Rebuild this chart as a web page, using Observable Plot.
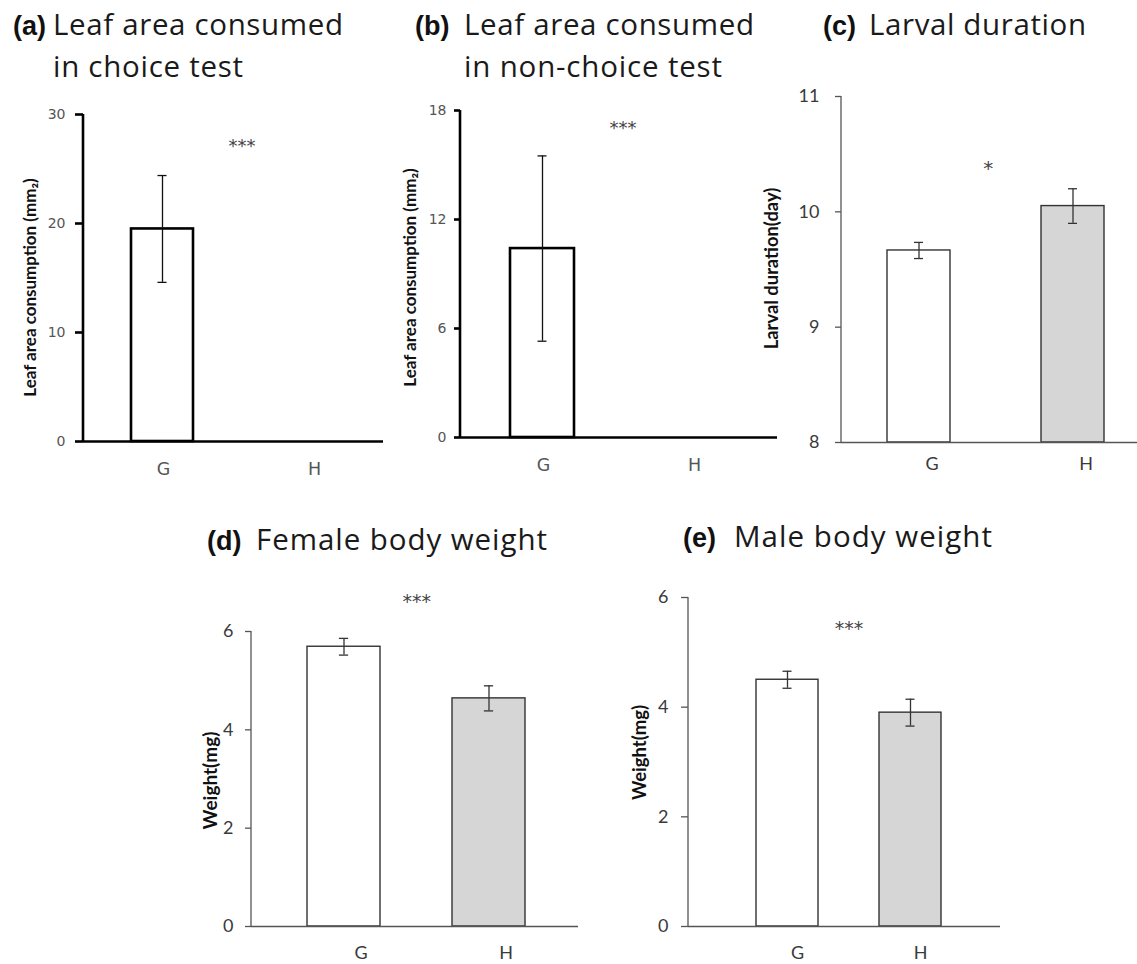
<!DOCTYPE html>
<html><head><meta charset="utf-8">
<script src="https://cdn.jsdelivr.net/npm/d3@7"></script>
<script src="https://cdn.jsdelivr.net/npm/@observablehq/plot@0.6"></script>
<style>
body{margin:0;background:#fff;}
#root{position:relative;width:1137px;height:964px;overflow:hidden;background:#fff;}
.panel{position:absolute;}
.panel svg{overflow:visible;background:transparent;}
#titles{position:absolute;left:0;top:0;}
.heavy [aria-label="y-axis tick label"] text{font-family:"DejaVu Sans" !important;font-size:14px !important;fill:#555 !important;}
.heavy [aria-label="x-axis tick label"] text{font-family:"DejaVu Sans" !important;font-size:17.5px !important;fill:#555 !important;}
.light [aria-label="y-axis tick label"] text{font-family:"Lato" !important;font-size:18px !important;fill:#3a3a3a !important;}
.light [aria-label="x-axis tick label"] text{font-family:"Lato" !important;font-size:18px !important;fill:#3a3a3a !important;}
</style></head><body><div id="root"></div>
<script>
// ---- data ----
const categories = ["G", "H"];
const leafChoiceMean = [19.5, 0];
const leafChoiceSE = [4.9, 0];
const leafNonChoiceMean = [10.4, 0];
const leafNonChoiceSE = [5.1, 0];
const larvalMean = [9.665, 10.05];
const larvalSE = [0.07, 0.15];
const femaleMean = [5.69, 4.64];
const femaleSE = [0.17, 0.255];
const maleMean = [4.5, 3.9];
const maleSE = [0.155, 0.245];
const leafChoiceTicks = [0, 10, 20, 30];
const leafNonChoiceTicks = [0, 6, 12, 18];
const larvalTicks = [8, 9, 10, 11];
const femaleTicks = [0, 2, 4, 6];
const maleTicks = [0, 2, 4, 6];
const significance = ["***", "***", "*", "***", "***"];
const significanceY = [27.1, 17.1, 10.38, 6.63, 5.45];
const panelLetters = ["(a)", "(b)", "(c)", "(d)", "(e)"];
const panelTitles = [["Leaf area consumed", "in choice test"], ["Leaf area consumed", "in non-choice test"], ["Larval duration"], ["Female body weight"], ["Male body weight"]];
const yLabels = ["Leaf area consumption (mm\u2082)", "Leaf area consumption (mm\u2082)", "Larval duration(day)", "Weight(mg)", "Weight(mg)"];
const barFills = ["#ffffff", "#d6d6d6"];

// ---- layout / style ----
const heavy = {cls: "heavy", axis: "#000", axisW: 2.6, bar: "#000", barW: 2.6, err: "#111", errW: 1.3};
const light = {cls: "light", axis: "#555", axisW: 1.3, bar: "#333", barW: 1.4, err: "#333", errW: 1.3};
const panels = [
  {mean: leafChoiceMean, se: leafChoiceSE, ticks: leafChoiceTicks, yDomain: [0, 30], left: 0, top: 90, w: 390, h: 380, mt: 24, mr: 7, mb: 29, ml: 83, xRange: [86.5, 388.5], padding: 0.59, st: heavy, tickSize: 8, tickPad: 10, xPad: 21, xDx: 1, labX: -53, labDy: 9.5, labFont: 17, starFont: 18, starDx: 4, sigDy: 0},
  {mean: leafNonChoiceMean, se: leafNonChoiceSE, ticks: leafNonChoiceTicks, yDomain: [0, 18], left: 390, top: 90, w: 390, h: 380, mt: 20, mr: 3, mb: 33, ml: 70, xRange: [76.5, 378.5], padding: 0.576, st: heavy, tickSize: 6, tickPad: 8, xPad: 21, xDx: 1, labX: -50, labDy: 3.5, labFont: 17, starFont: 18, starDx: 5, sigDy: 1},
  {mean: larvalMean, se: larvalSE, ticks: larvalTicks, yDomain: [8, 11], left: 760, top: 90, w: 377, h: 380, mt: 6, mr: 0, mb: 28, ml: 81, xRange: [81.25, 390.25], padding: 0.592, st: light, tickSize: 6, tickPad: 16, xPad: 15, xDx: 13, labX: -69, labDy: -1, labFont: 18.4, starFont: 20, starDx: -8, sigDy: 1},
  {mean: femaleMean, se: femaleSE, ticks: femaleTicks, yDomain: [0, 6], left: 190, top: 560, w: 400, h: 404, mt: 71, mr: 12, mb: 38, ml: 61, xRange: [80.25, 371.25], padding: 0.5, st: light, tickSize: 6, tickPad: 12, xPad: 20, xDx: 17, labX: -41, labDy: 1.5, labFont: 19, starFont: 19, starDx: 0, sigDy: 1},
  {mean: maleMean, se: maleSE, ticks: maleTicks, yDomain: [0, 6], left: 600, top: 560, w: 420, h: 404, mt: 37, mr: 20, mb: 38, ml: 88, xRange: [125.5, 371.5], padding: 0.496, st: light, tickSize: 7, tickPad: 13, xPad: 20, xDx: 10, labX: -48, labDy: -9.5, labFont: 18.5, starFont: 19, starDx: 0, sigDy: 1}
];
const titlePos = [
  {x: 13, y: 35, tx: 53, y2: 77, len: [290, 190]},
  {x: 415, y: 35, tx: 464, y2: 77, len: [290, 258]},
  {x: 823, y: 35, tx: 869, len: [217]},
  {x: 207, y: 550, tx: 256, len: [291]},
  {x: 683, y: 547, tx: 734, len: [258]}
];

const root = document.getElementById("root");

panels.forEach((p, k) => {
  const st = p.st;
  const data = categories.map((c, i) => ({cat: c, mean: p.mean[i], se: p.se[i]}));
  const withErr = data.filter(d => d.se > 0);
  const step = (p.xRange[1] - p.xRange[0]) / 2;
  const bw = step * (1 - p.padding);
  const capW = 9;
  const inset = (bw - capW) / 2;
  const base = p.yDomain[0];
  const yAxisLine = (index, scales, values, dims) =>
    d3.create("svg:line")
      .attr("x1", dims.marginLeft).attr("x2", dims.marginLeft)
      .attr("y1", dims.marginTop).attr("y2", dims.height - dims.marginBottom)
      .attr("stroke", st.axis).attr("stroke-width", st.axisW).node();

  const chart = Plot.plot({
    width: p.w, height: p.h,
    marginTop: p.mt, marginRight: p.mr, marginBottom: p.mb, marginLeft: p.ml,
    x: {type: "band", domain: categories, range: p.xRange, paddingInner: p.padding, paddingOuter: p.padding / 2},
    y: {domain: p.yDomain},
    color: {domain: categories, range: barFills},
    style: {background: "transparent", overflow: "visible"},
    marks: [
      Plot.barY(data.filter(d => d.mean > base), {x: "cat", y1: base, y2: "mean", fill: "cat", stroke: st.bar, strokeWidth: st.barW}),
      Plot.ruleX(withErr, {x: "cat", y1: d => d.mean - d.se, y2: d => d.mean + d.se, stroke: st.err, strokeWidth: st.errW}),
      Plot.tickY(withErr, {x: "cat", y: d => d.mean + d.se, insetLeft: inset, insetRight: inset, stroke: st.err, strokeWidth: st.errW}),
      Plot.tickY(withErr, {x: "cat", y: d => d.mean - d.se, insetLeft: inset, insetRight: inset, stroke: st.err, strokeWidth: st.errW}),
      Plot.ruleY([base], {stroke: st.axis, strokeWidth: st.axisW}),
      yAxisLine,
      Plot.axisY({ticks: p.ticks, tickFormat: d3.format("d"), tickSize: p.tickSize, tickPadding: p.tickPad, stroke: st.axis, strokeWidth: st.axisW, label: null}),
      Plot.axisX({tickSize: 0, tickPadding: p.xPad, dx: p.xDx, label: null}),
      Plot.text([yLabels[k]], {frameAnchor: "left", textAnchor: "middle", lineAnchor: "middle", rotate: -90, dx: p.labX, dy: p.labDy, text: d => d, fontWeight: "bold", fontSize: p.labFont, fontFamily: "Lato", fill: "#111"}),
      Plot.text([{cat: categories[0], y: significanceY[k], s: significance[k]}], {x: "cat", y: "y", text: "s", dx: step / 2 + p.starDx, dy: p.sigDy, fontSize: p.starFont, fontFamily: "DejaVu Sans", fill: "#444"})
    ]
  });
  const div = document.createElement("div");
  div.className = "panel " + st.cls;
  div.style.left = p.left + "px";
  div.style.top = p.top + "px";
  div.style.width = p.w + "px";
  div.style.height = p.h + "px";
  div.appendChild(chart);
  root.appendChild(div);
});

// titles
const svg = d3.select(root).append("svg").attr("id", "titles").attr("width", 1137).attr("height", 964);
titlePos.forEach((t, k) => {
  svg.append("text").attr("x", t.x).attr("y", t.y).attr("font-family", "Liberation Sans").attr("font-weight", "bold").attr("font-size", 27).attr("fill", "#111").text(panelLetters[k]);
  panelTitles[k].forEach((line, j) => {
    svg.append("text").attr("x", t.tx).attr("y", j ? t.y2 : t.y)
      .attr("font-family", "Open Sans").attr("font-size", 29.5).attr("fill", "#1a1a1a")
      .attr("textLength", t.len[j]).attr("lengthAdjust", "spacing").text(line);
  });
});
</script>
</body></html>
